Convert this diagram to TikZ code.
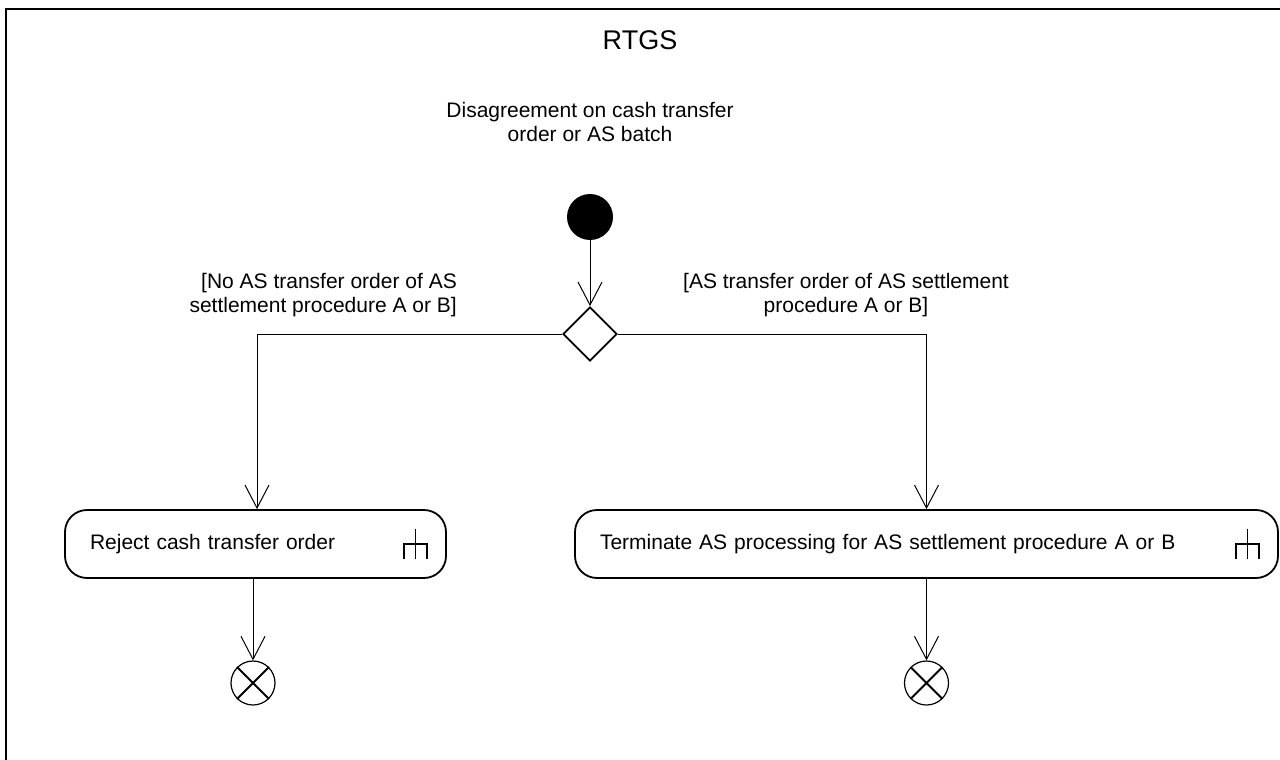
\documentclass[tikz,border=0pt]{standalone}
\usepackage{fontspec}
\setmainfont{Liberation Sans}
\usetikzlibrary{arrows.meta,shapes.geometric}
\begin{document}
\begin{tikzpicture}[x=1pt,y=-1pt,
  txt/.style={font=\fontsize{21}{24}\selectfont, inner sep=0pt},
  flow/.style={line width=1pt, -{Straight Barb[length=23pt,width=24pt,line width=1pt]}},
  act/.style={draw, line width=1.8pt, rounded corners=22pt, minimum height=68pt,
    inner xsep=25pt, inner ysep=0pt, align=left, font=\fontsize{21}{24}\selectfont},
  flowend/.style={circle, draw, line width=1.2pt, minimum size=44pt, inner sep=0pt},
  callfork/.pic={\draw[line width=1.3pt] (-11.5,15) -- (-11.5,0) -- (11.5,0) -- (11.5,15) (0,-15) -- (0,15);}
]
\useasboundingbox (0,0) rectangle (1280,760);
\draw[line width=2.2pt] (6,9) rectangle (1300,790);

\node[txt, font=\fontsize{27}{30}\selectfont] (title) at (640,40) {RTGS};

\node[txt, align=center, anchor=north] (startlbl) at (590,102.5) {Disagreement on cash transfer\\order or AS batch};
\node[circle, fill=black, minimum size=46pt, inner sep=0pt] (start) at (590,217) {};
\node[diamond, draw, line width=1.8pt, minimum width=54pt, minimum height=54pt, inner sep=0pt] (dec) at (590,334) {};

\node[txt, align=right, anchor=north east] (lbl1) at (457,273.5) {[No AS transfer order of AS\\settlement procedure A or B]};
\node[txt, align=center, anchor=north] (lbl2) at (846,273.5) {[AS transfer order of AS settlement\\procedure A or B]};

\node[act, text width=331pt] (reject) at (255.5,544) {Reject cash transfer order};
\node[act, text width=653pt] (term) at (926.5,544) {Terminate AS processing for AS settlement procedure A or B};
\pic at ([xshift=-31.5pt]reject.east) {callfork};
\pic at ([xshift=-31.5pt]term.east) {callfork};

\node[flowend] (end1) at (253,683) {};
\node[flowend] (end2) at (926.5,683) {};
\foreach \e in {end1,end2}
  \draw[line width=1.8pt] (\e.north west) -- (\e.south east) (\e.north east) -- (\e.south west);

\draw[flow] (start) -- (dec.north);
\draw[flow] (dec.west) -| ([xshift=1.5pt]reject.north);
\draw[flow] (dec.east) -| (term.north);
\draw[flow] (reject.south -| end1.north) -- (end1.north);
\draw[flow] (term.south) -- (end2.north);
\end{tikzpicture}
\end{document}
